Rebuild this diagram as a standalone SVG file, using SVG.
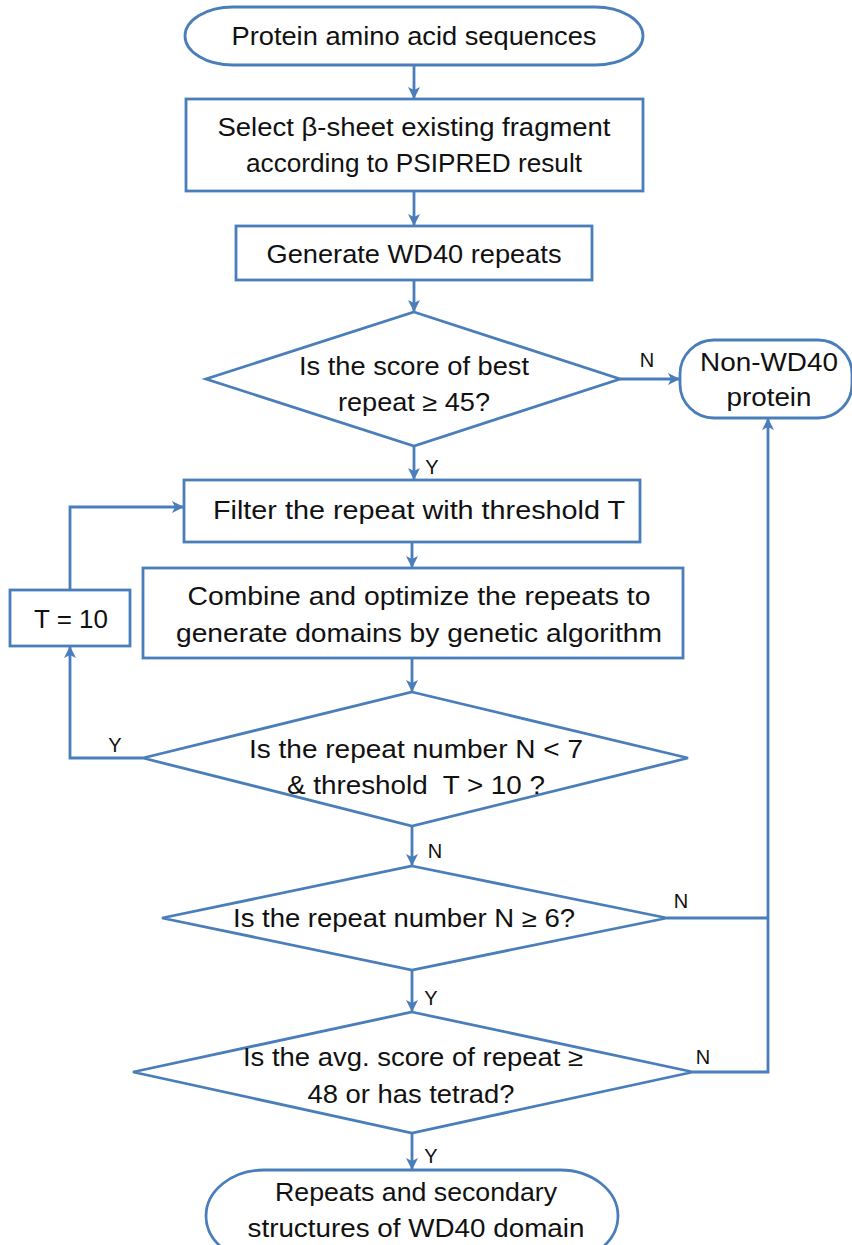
<svg xmlns="http://www.w3.org/2000/svg" width="852" height="1245" viewBox="0 0 852 1245">
<defs>
<marker id="ah" markerUnits="userSpaceOnUse" markerWidth="14" markerHeight="12" refX="12" refY="6" orient="auto">
<path d="M0,0 L12,6 L0,12 L3,6 Z" fill="#4a7ebb"/>
</marker>
<style>
.s{fill:#fff;stroke:#4a7ebb;stroke-width:2.8}
.c{fill:none;stroke:#4a7ebb;stroke-width:2.8}
.t{font-family:"Liberation Sans",Arial,sans-serif;font-size:25px;fill:#111;text-anchor:middle}
.l{font-family:"Liberation Sans",Arial,sans-serif;font-size:20px;fill:#111;text-anchor:middle}
</style>
</defs>
<rect width="852" height="1245" fill="#fff"/>
<g id="connectors">
<line class="c" x1="414" y1="65" x2="414" y2="99" marker-end="url(#ah)"/>
<line class="c" x1="414" y1="191" x2="414" y2="226" marker-end="url(#ah)"/>
<line class="c" x1="414" y1="280" x2="414" y2="312" marker-end="url(#ah)"/>
<line class="c" x1="620" y1="379" x2="680" y2="379" marker-end="url(#ah)"/>
<line class="c" x1="414" y1="446" x2="414" y2="480" marker-end="url(#ah)"/>
<line class="c" x1="412" y1="542" x2="412" y2="568" marker-end="url(#ah)"/>
<polyline class="c" points="70,590 70,507 184,507" marker-end="url(#ah)"/>
<line class="c" x1="412" y1="658" x2="412" y2="692" marker-end="url(#ah)"/>
<polyline class="c" points="143,758 70,758 70,646" marker-end="url(#ah)"/>
<line class="c" x1="412" y1="826" x2="412" y2="866" marker-end="url(#ah)"/>
<line class="c" x1="667" y1="918" x2="768" y2="918"/>
<line class="c" x1="412" y1="970" x2="412" y2="1012" marker-end="url(#ah)"/>
<polyline class="c" points="693,1072 768,1072 768,418" marker-end="url(#ah)"/>
<line class="c" x1="412" y1="1133" x2="412" y2="1170" marker-end="url(#ah)"/>
<text class="l" x="647" y="367">N</text>
<text class="l" x="432" y="474">Y</text>
<text class="l" x="115" y="752">Y</text>
<text class="l" x="435" y="858">N</text>
<text class="l" x="681" y="908">N</text>
<text class="l" x="431" y="1005">Y</text>
<text class="l" x="703" y="1064">N</text>
<text class="l" x="431" y="1163">Y</text>
</g>
<g id="start">
<rect class="s" x="185" y="7" width="458" height="58" rx="48" ry="29"/>
<text class="t" x="414" y="45" textLength="365" lengthAdjust="spacingAndGlyphs">Protein amino acid sequences</text>
</g>
<g id="select">
<rect class="s" x="186" y="99" width="457" height="92"/>
<text class="t" x="414" y="136" textLength="393" lengthAdjust="spacingAndGlyphs">Select β-sheet existing fragment</text>
<text class="t" x="414" y="172" textLength="336" lengthAdjust="spacingAndGlyphs">according to PSIPRED result</text>
</g>
<g id="generate">
<rect class="s" x="236" y="226" width="356" height="54"/>
<text class="t" x="414" y="263" textLength="295" lengthAdjust="spacingAndGlyphs">Generate WD40 repeats</text>
</g>
<g id="d1">
<polygon class="s" points="414,312 620,379 414,446 206,379"/>
<text class="t" x="414" y="375" textLength="230" lengthAdjust="spacingAndGlyphs">Is the score of best</text>
<text class="t" x="414" y="411" textLength="152" lengthAdjust="spacingAndGlyphs">repeat ≥ 45?</text>
</g>
<g id="nonwd40">
<rect class="s" x="680" y="340" width="172" height="78" rx="34"/>
<text class="t" x="769" y="371" textLength="138" lengthAdjust="spacingAndGlyphs">Non-WD40</text>
<text class="t" x="769" y="406" textLength="85" lengthAdjust="spacingAndGlyphs">protein</text>
</g>
<g id="filter">
<rect class="s" x="184" y="480" width="456" height="62"/>
<text class="t" x="419" y="519" textLength="412" lengthAdjust="spacingAndGlyphs">Filter the repeat with threshold T</text>
</g>
<g id="t10">
<rect class="s" x="10" y="590" width="120" height="56"/>
<text class="t" x="71" y="628" textLength="74" lengthAdjust="spacingAndGlyphs">T = 10</text>
</g>
<g id="combine">
<rect class="s" x="143" y="568" width="540" height="90"/>
<text class="t" x="419" y="605" textLength="463" lengthAdjust="spacingAndGlyphs">Combine and optimize the repeats to</text>
<text class="t" x="419" y="642" textLength="486" lengthAdjust="spacingAndGlyphs">generate domains by genetic algorithm</text>
</g>
<g id="d2">
<polygon class="s" points="412,692 688,758 412,826 143,758"/>
<text class="t" x="416" y="758" textLength="334" lengthAdjust="spacingAndGlyphs">Is the repeat number N &lt; 7</text>
<text class="t" x="416" y="794" textLength="258" lengthAdjust="spacingAndGlyphs" xml:space="preserve">&amp; threshold  T &gt; 10 ?</text>
</g>
<g id="d3">
<polygon class="s" points="412,866 667,918 412,970 162,918"/>
<text class="t" x="404" y="927" textLength="342" lengthAdjust="spacingAndGlyphs">Is the repeat number N ≥ 6?</text>
</g>
<g id="d4">
<polygon class="s" points="412,1012 693,1072 412,1133 133,1072"/>
<text class="t" x="413" y="1066" textLength="340" lengthAdjust="spacingAndGlyphs">Is the avg. score of repeat ≥</text>
<text class="t" x="411" y="1103" textLength="207" lengthAdjust="spacingAndGlyphs">48 or has tetrad?</text>
</g>
<g id="end">
<rect class="s" x="206" y="1170" width="412" height="92" rx="58" ry="46"/>
<text class="t" x="416" y="1201" textLength="282" lengthAdjust="spacingAndGlyphs">Repeats and secondary</text>
<text class="t" x="416" y="1237" textLength="337" lengthAdjust="spacingAndGlyphs">structures of WD40 domain</text>
</g>
</svg>
